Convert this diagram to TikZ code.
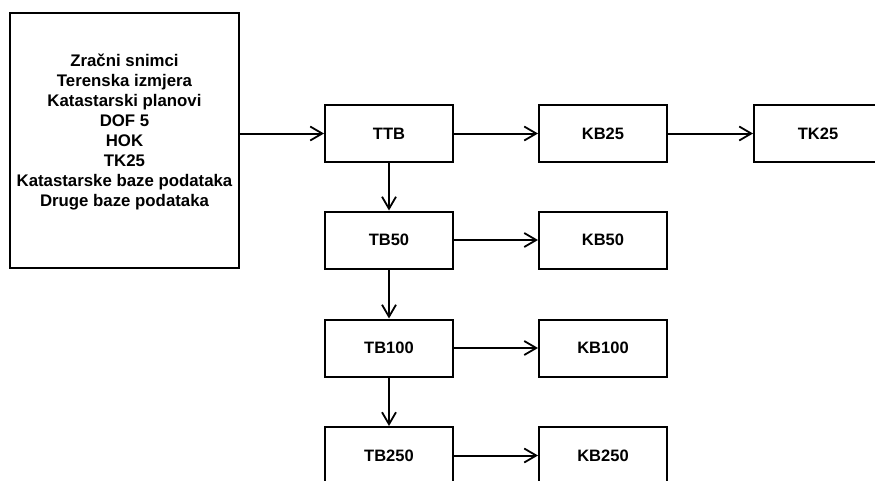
\documentclass[tikz,border=0pt]{standalone}
\usepackage{fontspec}
\setmainfont{Liberation Sans}
\usetikzlibrary{arrows.meta}
\begin{document}
\begin{tikzpicture}[x=1pt,y=-1pt,
  box/.style={draw, line width=2pt, minimum width=128pt, minimum height=57pt, inner sep=0pt,
    font=\fontsize{16.5}{20}\selectfont\bfseries},
  srcbox/.style={draw, line width=2pt, minimum width=229pt, minimum height=255pt, inner sep=0pt},
  srctext/.style={align=center, inner sep=0pt, font=\fontsize{16.8}{20}\selectfont\bfseries},
  arr/.style={line width=2pt, -{Straight Barb[length=12pt,width=14pt,line width=1.8pt]}}]
\useasboundingbox (0,0) rectangle (875,480);
\clip (0,0) rectangle (875,480);
\fill[white] (0,0) rectangle (875,480);
\node[srcbox] (src) at (124.5,140.5) {};
\node[srctext] (srct) at (124.5,132.5) {Zračni snimci\\Terenska izmjera\\Katastarski planovi\\DOF 5\\HOK\\TK25\\Katastarske baze podataka\\Druge baze podataka};
\node[box] (ttb) at (389,133.5) {TTB};
\node[box] (kb25) at (603,133.5) {KB25};
\node[box] (tk25) at (818,133.5) {TK25};
\node[box] (tb50) at (389,240) {TB50};
\node[box] (kb50) at (603,240) {KB50};
\node[box] (tb100) at (389,348) {TB100};
\node[box] (kb100) at (603,348) {KB100};
\node[box] (tb250) at (389,455.5) {TB250};
\node[box] (kb250) at (603,455.5) {KB250};
\draw[arr] (src.east |- ttb.west) -- (ttb.west);
\draw[arr] (ttb) -- (kb25);
\draw[arr] (kb25) -- (tk25);
\draw[arr] (ttb) -- (tb50);
\draw[arr] (tb50) -- (kb50);
\draw[arr] (tb50) -- (tb100);
\draw[arr] (tb100) -- (kb100);
\draw[arr] (tb100) -- (tb250);
\draw[arr] (tb250) -- (kb250);
\end{tikzpicture}
\end{document}
